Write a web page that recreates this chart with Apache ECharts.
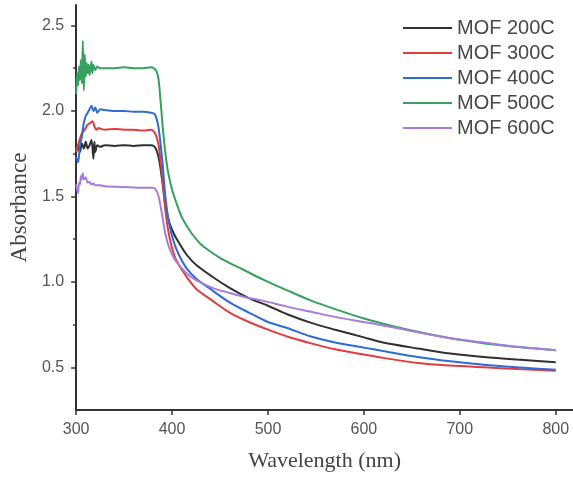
<!DOCTYPE html>
<html>
<head>
<meta charset="utf-8">
<script src="https://cdn.jsdelivr.net/npm/echarts@6/dist/echarts.min.js"></script>
<style>html,body{margin:0;padding:0;background:#fff}#c{width:573px;height:479px}</style>
</head>
<body>
<div id="c"></div>
<script>
// ---- data ----
var seriesNames = ['MOF 200C', 'MOF 300C', 'MOF 400C', 'MOF 500C', 'MOF 600C'];

var wl200 = [300,302,304,306,308,310,312,314,316,318,319,320,322,325,330,340,350,360,370,378,381,383,385,387,390,393,397,402,407,415,425,442,460,480,500,520,545,570,600,620,656,690,725,760,800];
var abs200 = [1.76,1.79,1.76,1.81,1.78,1.82,1.78,1.80,1.83,1.72,1.82,1.76,1.80,1.79,1.80,1.795,1.80,1.795,1.80,1.80,1.795,1.78,1.75,1.70,1.58,1.45,1.35,1.28,1.23,1.16,1.10,1.03,0.965,0.905,0.86,0.81,0.76,0.72,0.675,0.645,0.61,0.58,0.56,0.545,0.53];

var wl300 = [300,303,306,309,312,315,317,319,321,323,326,330,340,350,360,370,378,381,383,386,390,393,397,402,407,415,425,442,460,480,500,520,545,570,600,620,656,690,725,760,800];
var abs300 = [1.76,1.82,1.87,1.89,1.92,1.93,1.94,1.91,1.89,1.90,1.895,1.89,1.895,1.89,1.89,1.885,1.89,1.88,1.86,1.80,1.60,1.42,1.27,1.16,1.10,1.03,0.96,0.89,0.82,0.765,0.72,0.68,0.64,0.605,0.575,0.555,0.525,0.51,0.50,0.49,0.48];

var wl400 = [300,302,304,306,308,310,312,314,316,318,320,322,325,330,340,350,360,370,378,381,383,386,390,393,397,402,407,415,425,442,460,480,500,520,545,570,600,620,656,690,725,760,800];
var abs400 = [1.73,1.70,1.80,1.85,1.93,1.97,1.99,2.01,2.03,2.00,2.02,1.99,2.01,2.005,2.00,2.00,1.995,1.995,1.99,1.985,1.97,1.90,1.70,1.50,1.34,1.23,1.16,1.08,1.02,0.95,0.88,0.82,0.765,0.73,0.68,0.645,0.615,0.595,0.56,0.535,0.515,0.50,0.485];

var wl500 = [300,301,302,303,304,305,306,307,308,309,310,311,312,313,314,316,317,318,320,322,325,330,340,350,360,370,378,381,384,386,388,391,395,400,404,410,415,421,430,438,450,460,473,485,500,520,545,570,600,620,650,690,740,800];
var abs500 = [2.10,2.22,2.15,2.26,2.18,2.30,2.16,2.41,2.12,2.33,2.20,2.28,2.22,2.27,2.21,2.29,2.22,2.27,2.24,2.26,2.25,2.25,2.25,2.255,2.25,2.25,2.255,2.25,2.23,2.18,2.06,1.86,1.67,1.54,1.47,1.38,1.33,1.28,1.22,1.185,1.14,1.11,1.075,1.04,1.00,0.95,0.89,0.84,0.785,0.755,0.715,0.67,0.63,0.60];

var wl600 = [300,301,302,303,304,305,306,307,308,310,312,314,316,318,320,325,330,350,370,380,383,386,390,393,397,402,407,415,425,442,460,476,494,520,545,570,600,620,656,690,725,760,800];
var abs600 = [1.57,1.54,1.52,1.58,1.57,1.62,1.60,1.635,1.60,1.61,1.58,1.585,1.57,1.575,1.565,1.565,1.56,1.555,1.55,1.55,1.54,1.50,1.38,1.28,1.20,1.14,1.10,1.05,1.01,0.965,0.935,0.91,0.89,0.855,0.825,0.795,0.765,0.745,0.705,0.67,0.645,0.62,0.60];

var xTicks = [300, 400, 500, 600, 700, 800];
var yTicks = [0.5, 1.0, 1.5, 2.0, 2.5];
var yMinorTicks = [0.75, 1.25, 1.75, 2.25];

// ---- chart ----
var colors = ['#303030', '#e23c3f', '#2c6cd4', '#37a05e', '#a67ddb'];
var wls = [wl200, wl300, wl400, wl500, wl600];
var absv = [abs200, abs300, abs400, abs500, abs600];

function pairs(xs, ys) { return xs.map(function (x, i) { return [x, ys[i]]; }); }

var series = seriesNames.map(function (n, i) {
  return {
    name: n, type: 'line', symbol: 'none', showSymbol: false, smooth: 0.3,
    data: pairs(wls[i], absv[i]),
    lineStyle: { color: colors[i], width: 2 },
    itemStyle: { color: colors[i] },
    emphasis: { disabled: true }
  };
});

var axisCol = '#333';
var chart = echarts.init(document.getElementById('c'), null, { renderer: 'canvas' });
chart.setOption({
  animation: false,
  backgroundColor: '#fff',
  color: colors,
  grid: { left: 73, right: 0, top: 5, bottom: 69 },
  legend: {
    orient: 'vertical', left: 403, top: 18, padding: 0,
    icon: 'rect', itemWidth: 49, itemHeight: 2, itemGap: 5,
    textStyle: { fontFamily: 'Liberation Sans, Arial', fontSize: 20, color: '#484848' },
    data: seriesNames
  },
  xAxis: {
    type: 'value', min: 300, max: 818,
    name: 'Wavelength (nm)', nameLocation: 'middle', nameGap: 40,
    nameTextStyle: { fontFamily: 'Liberation Serif, Times New Roman', fontSize: 22, color: '#444' },
    axisLine: { show: true, lineStyle: { color: axisCol, width: 2 } },
    axisTick: { show: true, inside: false, length: 5, lineStyle: { color: axisCol, width: 1.5 }, customValues: xTicks },
    axisLabel: { customValues: xTicks, fontFamily: 'Liberation Sans, Arial', fontSize: 16, color: '#555', margin: 12 },
    splitLine: { show: false }
  },
  yAxis: [{
    type: 'value', min: 0.25, max: 2.62,
    name: 'Absorbance', nameLocation: 'middle', nameGap: 40,
    nameTextStyle: { fontFamily: 'Liberation Serif, Times New Roman', fontSize: 23, color: '#444' },
    axisLine: { show: true, lineStyle: { color: axisCol, width: 2 } },
    axisTick: { show: true, inside: false, length: 5, lineStyle: { color: axisCol, width: 1.5 }, customValues: yTicks },
    axisLabel: { customValues: yTicks, fontFamily: 'Liberation Sans, Arial', fontSize: 16, color: '#555', margin: 12,
      formatter: function (v) { return v.toFixed(1); } },
    splitLine: { show: false }
  }, {
    type: 'value', min: 0.25, max: 2.62, position: 'left',
    axisLine: { show: false },
    axisTick: { show: true, inside: false, length: 3, lineStyle: { color: axisCol, width: 1.5 }, customValues: yMinorTicks },
    axisLabel: { show: false },
    splitLine: { show: false }
  }],
  series: series
});
</script>
</body>
</html>
